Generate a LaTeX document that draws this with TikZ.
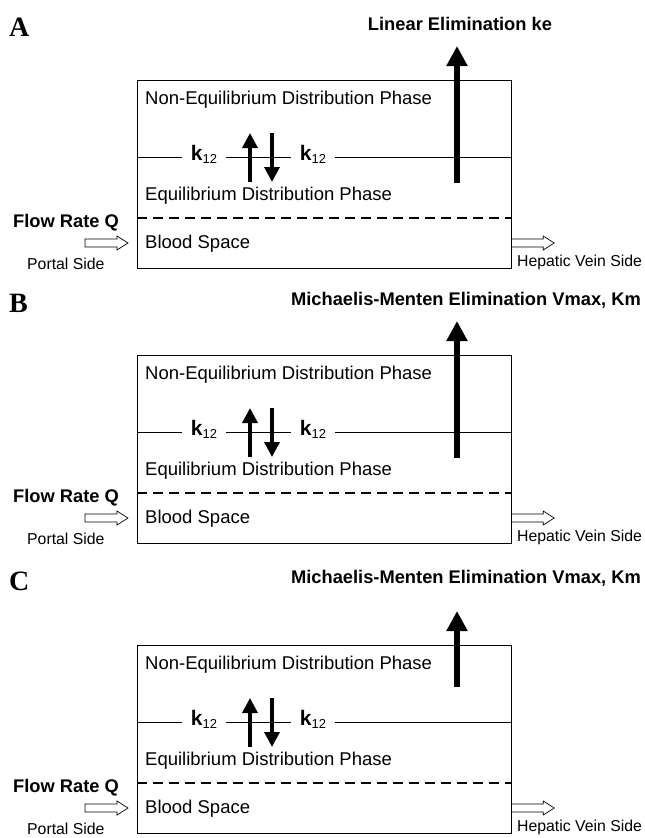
\documentclass[tikz,border=0pt]{standalone}
\usepackage{fontspec}
\setmainfont{Liberation Sans}
\newfontfamily\tagfont{Liberation Serif}
\usetikzlibrary{arrows.meta}

\tikzset{
  phase/.style={anchor=west, inner sep=0pt, font=\fontsize{18.5}{20}\selectfont},
  ratek/.style={inner xsep=9pt, inner ysep=0pt, font=\fontsize{21}{22}\selectfont},
  sidetext/.style={anchor=west, inner sep=0pt, font=\fontsize{15.8}{17}\selectfont},
  headline/.style={inner sep=0pt, font=\bfseries\fontsize{18.3}{20}\selectfont},
  paneltag/.style={anchor=west, inner sep=0pt, font=\tagfont\bfseries\fontsize{28}{30}\selectfont},
  flowline/.style={line width=0.7pt, line join=miter},
  elim/.style={line width=5.5pt, -{Triangle[length=20pt,width=20pt]}},
  exch/.style={line width=3.5pt, -{Triangle[length=15pt,width=15pt]}},
}

% #1 prefix, #2 offset, #3 letter, #4 title, #5 title x, #6 title y, #7 arrow base
\newcommand{\liverpanel}[7]{%
\begin{scope}[yshift=-#2pt]
  \node[paneltag] (#1tag) at (9,{#6+3}) {#3};
  \node[headline] (#1title) at (#5,#6) {#4};
  \node[draw, line width=1.2pt, anchor=north west, inner sep=0pt,
        minimum width=374pt, minimum height=188pt] (#1box) at (137,80) {};
  \node[phase] (#1neq) at (145,100) {Non-Equilibrium Distribution Phase};
  \node[phase] (#1eq) at (145,196) {Equilibrium Distribution Phase};
  \node[phase] (#1blood) at (145,244) {Blood Space};
  % rate constants on the boundary line
  \node[ratek] (#1ka) at (204,154) {\textbf{k}\raisebox{-3pt}{\fontsize{13}{13}\selectfont 12}};
  \node[ratek] (#1kb) at (313,154) {\textbf{k}\raisebox{-3pt}{\fontsize{13}{13}\selectfont 12}};
  \coordinate (#1kl) at (137,157);
  \coordinate (#1kr) at (511,157);
  \draw[line width=1pt] (#1kl) -- (#1kl -| #1ka.west);
  \draw[line width=1pt] (#1kl -| #1ka.east) -- (#1kl -| #1kb.west);
  \draw[line width=1pt] (#1kl -| #1kb.east) -- (#1kr);
  \coordinate (#1dl) at (137,218);
  \coordinate (#1dr) at (511,218);
  \draw[line width=1.2pt, dash pattern=on 10pt off 6pt] (#1dl) -- (#1dr);
  % exchange and elimination
  \coordinate (#1ub) at (250,182);
  \coordinate (#1ut) at (250,133);
  \coordinate (#1db) at (272,182);
  \coordinate (#1dt) at (272,133);
  \draw[exch] (#1ub) -- (#1ut);
  \draw[exch] (#1dt) -- (#1db);
  \coordinate (#1eb) at (457,#7);
  \coordinate (#1et) at (457,46);
  \draw[elim] (#1eb) -- (#1et);
  % flow in and out
  \node[headline, anchor=west] (#1flow) at (13,223) {Flow Rate Q};
  \coordinate (#1in) at (85,243);
  \coordinate (#1out) at (#1box.east |- #1in);
  \draw[flowline] (#1in) ++(0,-4) -- ++(32,0) -- ++(0,-3) -- ++(11,7)
    -- ++(-11,7) -- ++(0,-3) -- ++(-32,0) -- cycle;
  \draw[flowline] (#1out) ++(0,-4) -- ++(31,0) -- ++(0,-3) -- ++(11,7)
    -- ++(-11,7) -- ++(0,-3) -- ++(-31,0);
  \node[sidetext] (#1portal) at (27,264) {Portal Side};
  \node[sidetext] (#1hep) at (517,262) {Hepatic Vein Side};
\end{scope}}

\begin{document}
\begin{tikzpicture}[x=1pt, y=-1pt]
\useasboundingbox (0,0) rectangle (645,838);
\liverpanel{A}{0}{A}{Linear Elimination ke}{460}{24}{183}
\liverpanel{B}{275}{B}{Michaelis-Menten Elimination Vmax, Km}{466}{25}{183}
\liverpanel{C}{565}{C}{Michaelis-Menten Elimination Vmax, Km}{466}{13}{122}
\end{tikzpicture}
\end{document}
